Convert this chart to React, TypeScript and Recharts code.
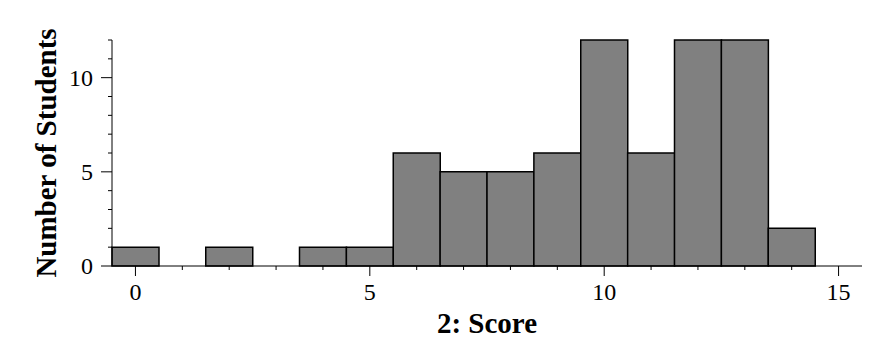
import { BarChart, Bar, XAxis, YAxis, Label } from 'recharts';

const scores = [0, 1, 2, 3, 4, 5, 6, 7, 8, 9, 10, 11, 12, 13, 14, 15];
const students = [1, 0, 1, 0, 1, 1, 6, 5, 5, 6, 12, 6, 12, 12, 2, 0];
const xLabelTicks = [0, 5, 10, 15];
const yTicks = [0, 1, 2, 3, 4, 5, 6, 7, 8, 9, 10, 11, 12];
const yLabelTicks = [0, 5, 10];

const data = scores.map((s, i) => ({ score: s, count: students[i] }));

const FONT = 'Liberation Serif, Times New Roman, Times, serif';
const textStyle = { fontFamily: FONT };

function XTick({ x, y, payload }: any) {
  const major = xLabelTicks.includes(Number(payload.value));
  return (
    <g>
      <line x1={x} x2={x} y1={y} y2={y + (major ? 10 : 4)} stroke="#000" strokeWidth={1} />
      {major && (
        <text x={x} y={y + 34} textAnchor="middle" style={textStyle} fontSize={24} fill="#000">
          {payload.value}
        </text>
      )}
    </g>
  );
}

function YTick({ x, y, payload }: any) {
  const major = yLabelTicks.includes(Number(payload.value));
  return (
    <g>
      <line x1={x - (major ? 11 : 4)} x2={x} y1={y} y2={y} stroke="#000" strokeWidth={1} />
      {major && (
        <text x={x - 19} y={y + 8} textAnchor="end" style={textStyle} fontSize={24} fill="#000">
          {payload.value}
        </text>
      )}
    </g>
  );
}

export default function App() {
  return (
    <div style={{ position: 'absolute', left: 0, top: 0, width: 875, height: 355, background: '#fff', fontFamily: FONT }}>
      <BarChart
        width={875}
        height={355}
        data={data}
        margin={{ top: 40, right: 13, left: 0, bottom: 0 }}
        barCategoryGap={0}
        barGap={0}
      >
        <XAxis
          dataKey="score"
          type="category"
          interval={0}
          height={89}
          tickSize={0}
          tickMargin={0}
          tickLine={false}
          tick={<XTick />}
          axisLine={{ stroke: '#000', strokeWidth: 1 }}
        >
          <Label
            content={({ viewBox }: any) => (
              <text
                x={viewBox.x + viewBox.width / 2}
                y={viewBox.y + 67}
                textAnchor="middle"
                style={textStyle}
                fontWeight="bold"
                fontSize={29}
                fill="#000"
              >
                2: Score
              </text>
            )}
          />
        </XAxis>
        <YAxis
          type="number"
          domain={[0, 12]}
          ticks={yTicks}
          interval={0}
          width={112}
          tickSize={0}
          tickMargin={0}
          tickLine={false}
          tick={<YTick />}
          axisLine={{ stroke: '#000', strokeWidth: 1 }}
        >
          <Label
            content={({ viewBox }: any) => {
              const cx = viewBox.x + 56;
              const cy = viewBox.y + viewBox.height / 2;
              return (
                <text
                  x={cx}
                  y={cy}
                  textAnchor="middle"
                  transform={`rotate(-90 ${cx} ${cy})`}
                  style={textStyle}
                  fontWeight="bold"
                  fontSize={29}
                  fill="#000"
                >
                  Number of Students
                </text>
              );
            }}
          />
        </YAxis>
        <Bar dataKey="count" fill="#808080" stroke="#000" strokeWidth={1.5} isAnimationActive={false} />
      </BarChart>
    </div>
  );
}
